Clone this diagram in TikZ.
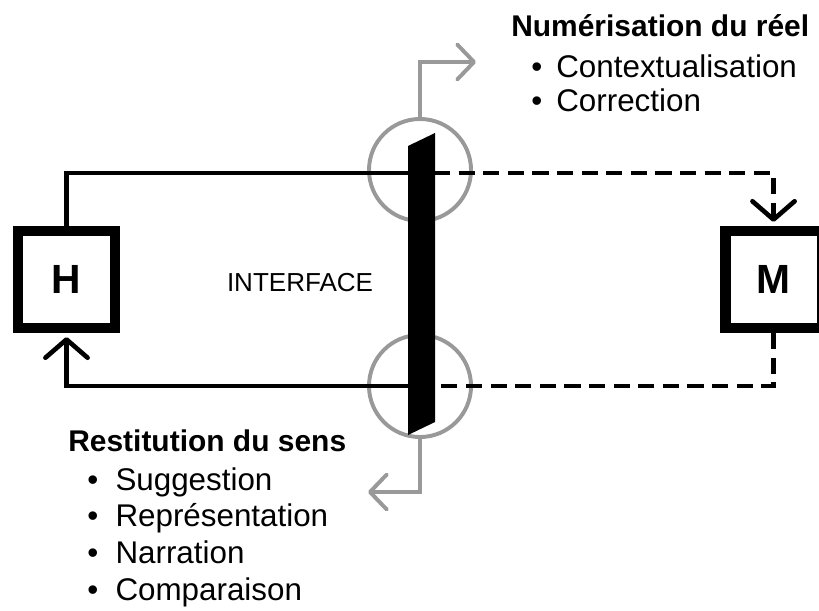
\documentclass[tikz,border=0pt]{standalone}
\usepackage{fontspec}
\setmainfont{Liberation Sans}
\usetikzlibrary{arrows.meta, positioning}

\begin{document}
\begin{tikzpicture}[
			x=0.025cm, y=-0.025cm,
			box/.style={
				draw,
				line width=7.4pt,
				minimum size=2.41cm,
				inner sep=0pt,
				font=\fontsize{29}{30}\selectfont\bfseries
			},
			ring/.style={
				circle,
				draw=black!40,
				line width=2.8pt,
				minimum size=2.55cm,
				inner sep=0pt
			},
			link/.style={line width=3.3pt},
			dashlink/.style={link, dash pattern=on 11.5pt off 6pt},
			tip/.style={-{Straight Barb[length=13pt, width=30pt, round]}},
			graytip/.style={-{Straight Barb[length=12pt, width=25pt, round]}, draw=black!40, line width=2.8pt},
			head/.style={font=\fontsize{21.3}{26}\selectfont\bfseries, inner sep=0pt},
			items/.style={font=\fontsize{22.3}{26}\selectfont, align=left, inner sep=0pt}
			]
			
			\useasboundingbox (0,0) rectangle (819,610);
			
			\node[box] (hum) at (66.5,279.5) {H};
			\node[box] (mach) at (773.5,279.5) {M};
			
			\node[font=\fontsize{18.5}{20}\selectfont] (interface) at (300,283) {INTERFACE};
			
			\node[ring] (ctop) at (420,170) {};
			\node[ring] (cbot) at (420,386) {};
			
			% ends of the lines at the bar
			\coordinate (tin) at (409,173);
			\coordinate (tout) at (434,173);
			\coordinate (bin) at (409,386);
			\coordinate (bout) at (434,386);
			\coordinate (numout) at (476,62);
			\coordinate (resout) at (368,492);
			
			\draw[link] (hum.north) |- (tin);
			\draw[dashlink, tip, shorten >=3pt] (tout) -| (mach.north);
			\draw[dashlink] (mach.south) |- (bout);
			\draw[link, tip, shorten >=3pt] (bin) -| (hum.south);
			
			\draw[graytip] (ctop.north) |- (numout);
			\draw[graytip] (cbot.south) |- (resout);
			
			% the interface bar
			\fill (408,146) -- (435,133) -- (435,422) -- (408,435) -- cycle;
			
			\node[head, anchor=base west] (numhead) at (511,37) {Numérisation du réel};
			\node[items, anchor=north west, font=\fontsize{22.3}{24.8}\selectfont] (numlist) at (531,54)
			{•\hspace{0.45em}Contextualisation\\
			 •\hspace{0.45em}Correction};
			
			\node[head, anchor=base west] (reshead) at (68,451) {Restitution du sens};
			\node[items, anchor=north west, font=\fontsize{22.3}{26.2}\selectfont] (reslist) at (87,467)
			{•\hspace{0.55em}Suggestion\\
			 •\hspace{0.55em}Représentation\\
			 •\hspace{0.55em}Narration\\
			 •\hspace{0.55em}Comparaison};
			
		\end{tikzpicture}
\end{document}
